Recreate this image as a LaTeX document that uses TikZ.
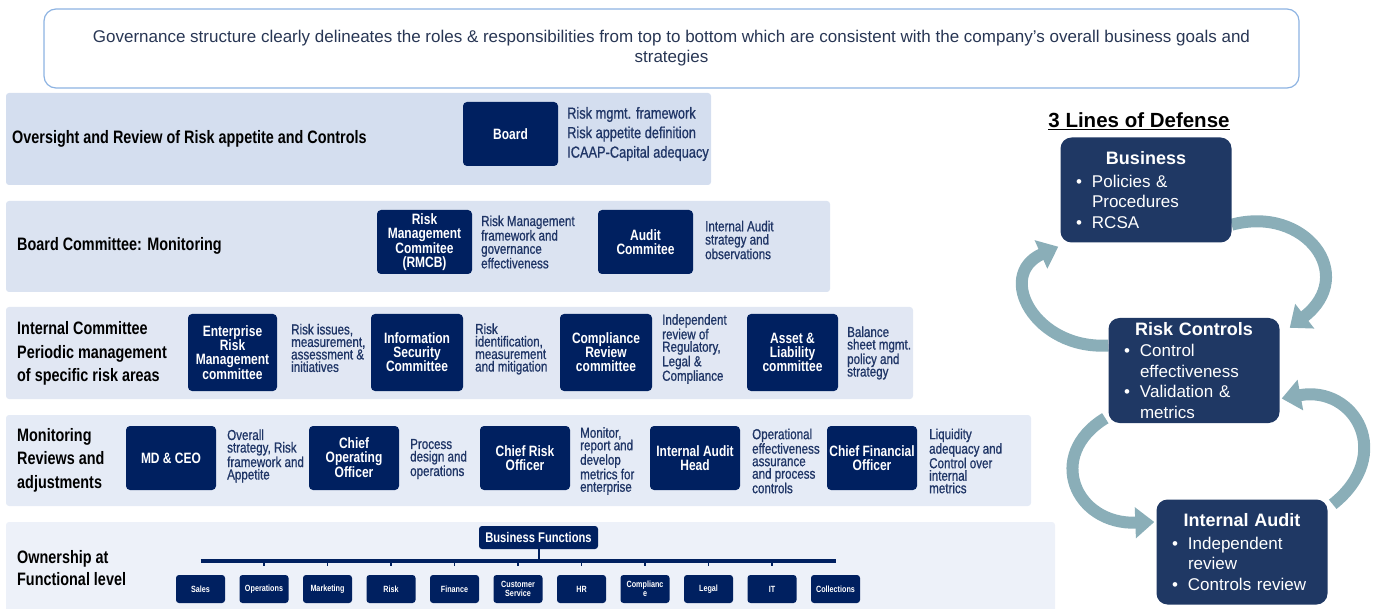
\documentclass[tikz,border=0pt]{standalone}
\usepackage{fontspec}
\setmainfont{Liberation Sans}
\newfontfamily\narrowfont[FakeStretch=0.8]{Liberation Sans}
\newfontfamily\notefont[FakeStretch=0.8,FakeBold=0.8]{Liberation Sans}
\usepackage{xcolor}
\usepackage{tikz}
\usetikzlibrary{arrows.meta,backgrounds}
\definecolor{cNavy}{RGB}{0,32,96}
\definecolor{cNote}{RGB}{31,53,102}
\definecolor{cHead}{RGB}{40,54,84}
\definecolor{cFrame}{RGB}{141,179,226}
\definecolor{cB1}{RGB}{212,222,239}
\definecolor{cB2}{RGB}{219,227,241}
\definecolor{cB3}{RGB}{225,231,243}
\definecolor{cB4}{RGB}{229,235,246}
\definecolor{cB5}{RGB}{237,241,249}
\definecolor{cLoD}{RGB}{31,56,100}
\definecolor{cArc}{RGB}{138,174,184}
\newcommand{\lodhead}[1]{\makebox[140pt][c]{\bfseries\fontsize{18}{20.5}\selectfont #1}}
\newcommand{\bul}{\textbullet\hspace{10pt}}
\newcommand{\ind}{\hspace*{16pt}}

\begin{document}
\begin{tikzpicture}[x=1pt,y=-1pt,
  rolebox/.style={fill=cNavy,rounded corners=4pt,text=white,align=center,inner sep=1pt,
    font=\narrowfont\bfseries\fontsize{15}{14}\selectfont},
  rolenote/.style={anchor=west,align=left,text=cNote,inner sep=0pt,
    font=\notefont\fontsize{14.5}{12.5}\selectfont},
  tierlabel/.style={anchor=west,align=left,inner sep=0pt,
    font=\narrowfont\bfseries\fontsize{18}{23.5}\selectfont},
  fnbox/.style={fill=cNavy,rounded corners=3pt,text=white,align=center,inner sep=0pt,
    minimum width=49,minimum height=28,font=\narrowfont\bfseries\fontsize{9}{8.5}\selectfont},
  lodbox/.style={fill=cLoD,rounded corners=11pt,text=white,align=left,inner xsep=0pt,
    inner ysep=1pt,minimum width=171,minimum height=105,text width=140,
    font=\fontsize{17}{20.5}\selectfont},
  defarrow/.style={line width=12pt,cArc,-{Triangle[width=30pt,length=19pt]}}]
\useasboundingbox (0,0) rectangle (1378,609);
% bands
\fill[cB1,rounded corners=3pt] (6,93) rectangle (711,185);
\fill[cB2,rounded corners=3pt] (6,201) rectangle (830,292);
\fill[cB3,rounded corners=3pt] (6,307) rectangle (913,399);
\fill[cB4,rounded corners=3pt] (6,415) rectangle (1031,506);
\fill[cB5,rounded corners=3pt] (6,522) rectangle (1055,612);
% header
\node[draw=cFrame,line width=1.2pt,rounded corners=12pt,fill=white,minimum width=1255,
  minimum height=79,align=center,text=cHead,font=\fontsize{17}{20}\selectfont] (goal) at (671.5,48.5)
  {Governance structure clearly delineates the roles \& responsibilities from top to bottom which are consistent with the company's overall business goals and\\strategies};
% oversight
\node[tierlabel] (t1) at (12,139) {Oversight and Review of Risk appetite and Controls};
\node[rolebox,minimum width=95,minimum height=64] (board) at (510.5,134) {Board};
\node[rolenote,font=\notefont\fontsize{16}{19.5}\selectfont] (boardnote) at (567,134)
  {Risk mgmt. framework\\Risk appetite definition\\ICAAP-Capital adequacy};
% board committee
\node[tierlabel] (t2) at (17,246) {Board Committee: Monitoring};
\node[rolebox,minimum width=95,minimum height=64] (rmcb) at (424.5,242) {Risk\\Management\\Commitee\\(RMCB)};
\node[rolenote,font=\notefont\fontsize{14.5}{13.3}\selectfont] (rmcbnote) at (481,242)
  {Risk Management\\framework and\\governance\\effectiveness};
\node[rolebox,minimum width=95,minimum height=64] (audit) at (645.5,242) {Audit\\Commitee};
\node[rolenote,font=\notefont\fontsize{14.5}{13.3}\selectfont] (auditnote) at (705,240)
  {Internal Audit\\strategy and\\observations};
% internal committee
\node[tierlabel] (t3) at (17,353.5) {Internal Committee\\Periodic management\\of specific risk areas};
\node[rolebox,minimum width=89,minimum height=77] (erm) at (232.5,352.5) {Enterprise\\Risk\\Management\\committee};
\node[rolenote] (ermnote) at (291,348) {Risk issues,\\measurement,\\assessment \&\\initiatives};
\node[rolebox,minimum width=92,minimum height=77] (isc) at (417,352.5) {Information\\Security\\Committee};
\node[rolenote] (iscnote) at (475,349) {Risk\\identification,\\measurement\\and mitigation};
\node[rolebox,minimum width=92,minimum height=77] (crc) at (606,352.5) {Compliance\\Review\\committee};
\node[rolenote] (crcnote) at (662,349) {Independent\\review of\\Regulatory,\\Legal \&\\Compliance};
\node[rolebox,minimum width=91,minimum height=77] (alc) at (792.5,352.5) {Asset \&\\Liability\\committee};
\node[rolenote] (alcnote) at (847,353) {Balance\\sheet mgmt.\\policy and\\strategy};
% monitoring
\node[tierlabel] (t4) at (17,460) {Monitoring\\Reviews and\\adjustments};
\node[rolebox,minimum width=90,minimum height=64] (ceo) at (171,458) {MD \& CEO};
\node[rolenote] (ceonote) at (227,456) {Overall\\strategy, Risk\\framework and\\Appetite};
\node[rolebox,minimum width=90,minimum height=64] (coo) at (354,458) {Chief\\Operating\\Officer};
\node[rolenote] (coonote) at (410,459) {Process\\design and\\operations};
\node[rolebox,minimum width=90,minimum height=64] (cro) at (525,458) {Chief Risk\\Officer};
\node[rolenote] (cronote) at (580,461) {Monitor,\\report and\\develop\\metrics for\\enterprise};
\node[rolebox,minimum width=90,minimum height=64] (iah) at (695,458) {Internal Audit\\Head};
\node[rolenote] (iahnote) at (752,461) {Operational\\effectiveness\\assurance\\and process\\controls};
\node[rolebox,minimum width=90,minimum height=64] (cfo) at (872,458) {Chief Financial\\Officer};
\node[rolenote] (cfonote) at (929,461) {Liquidity\\adequacy and\\Control over\\internal\\metrics};
% ownership
\node[tierlabel,font=\narrowfont\bfseries\fontsize{18}{22}\selectfont] (t5) at (17,568) {Ownership at\\Functional level};
\node[rolebox,minimum width=119,minimum height=23,rounded corners=3pt,
  font=\narrowfont\bfseries\fontsize{14}{14}\selectfont] (bf) at (538.5,537.5) {Business Functions};
\foreach \name/\txt [count=\i from 0] in {sales/Sales,ops/Operations,mkt/Marketing,risk/Risk,
    fin/Finance,cs/{Customer\\Service},hr/HR,comp/{Complianc\\e},legal/Legal,it/IT,coll/Collections}
  \node[fnbox] (\name) at (200.5+63.5*\i,589) {\txt};
\draw[line width=4pt,cNavy] (sales.north |- 0,561) -- (coll.north |- 0,561);
\draw[line width=2pt,cNavy] (bf.south) -- (bf.south |- 0,561);
\foreach \name in {ops,mkt,risk,fin,cs,hr,comp,legal,it}
  \draw[line width=1.5pt,cNavy] (\name.north |- 0,561) -- ++(0,5);
% 3 lines of defense
\node[inner sep=0pt,font=\bfseries\fontsize{20.5}{24}\selectfont] (lodtitle) at (1139,121) {\underline{3 Lines of Defense}};
\node[lodbox] (bus) at (1146,190) {\lodhead{Business}\\[2pt]\bul Policies \&\\\ind Procedures\\\bul RCSA};
\node[lodbox] (rc) at (1194,370.5) {\lodhead{Risk Controls}\\[1pt]\bul Control\\\ind effectiveness\\\bul Validation \&\\\ind metrics};
\node[lodbox] (ia) at (1242,552) {\lodhead{Internal Audit}\\[2pt]\bul Independent\\\ind review\\\bul Controls review};
\begin{pgfonlayer}{background}
\draw[defarrow] ([yshift=18pt]bus.south east) .. controls (1305,205) and (1358,275) .. ([xshift=10pt,yshift=-10pt]rc.north east);
\draw[defarrow] ([yshift=25pt]rc.west) .. controls (1035,350) and (995,275) .. ([xshift=-2pt,yshift=-4pt]bus.south west);
\draw[defarrow] ([xshift=-3pt,yshift=5pt]rc.south west) .. controls (1045,455) and (1075,525) .. ([xshift=-2pt,yshift=30pt]ia.west);
\draw[defarrow] ([xshift=5pt,yshift=-5pt]ia.north east) .. controls (1395,455) and (1355,385) .. ([xshift=2pt,yshift=-28pt]rc.east);
\end{pgfonlayer}
\end{tikzpicture}
\end{document}
